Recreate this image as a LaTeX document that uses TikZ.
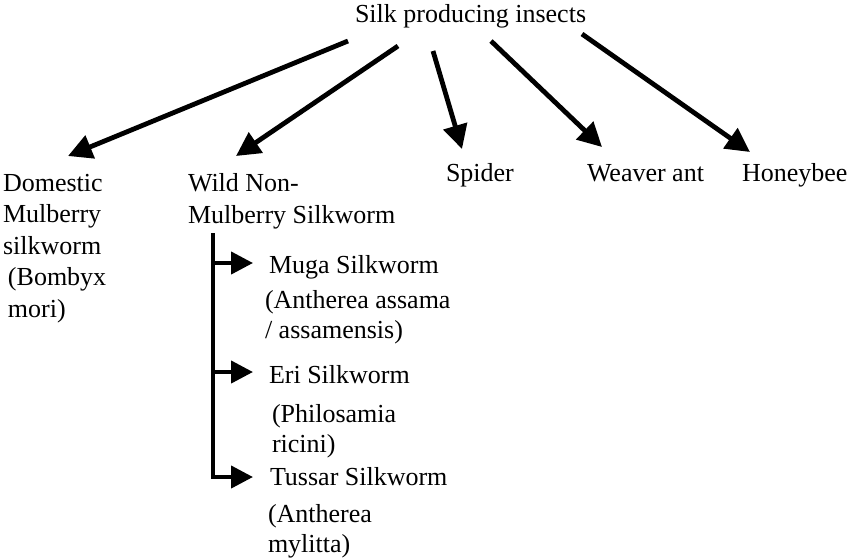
\documentclass[tikz,border=0pt]{standalone}
\usepackage{fontspec}
\setmainfont{Liberation Serif}
\usetikzlibrary{arrows.meta}
\begin{document}
\begin{tikzpicture}[x=1pt,y=-1pt,
  lbl/.style={inner sep=0pt,outer sep=0pt,anchor=base west,align=left,
    font=\fontsize{26}{31.5}\selectfont},
  sub/.style={lbl,font=\fontsize{26}{29.5}\selectfont},
  bigarrow/.style={line width=4.8pt,-{Triangle[length=24pt,width=24pt]}},
  smallarrow/.style={line width=4.2pt,-{Triangle[length=22pt,width=22pt]}},
  trunk/.style={line width=4.2pt,line join=miter}]
\useasboundingbox (0,0) rectangle (850,558);
% labels
\node[lbl] (title) at (355,22) {Silk producing insects};
\node[lbl] (dom) at (3,317) {Domestic\\Mulberry\\silkworm\\\hspace*{5pt}(Bombyx\\\hspace*{5pt}mori)};
\node[lbl] (wild) at (188,223) {Wild Non-\\Mulberry Silkworm};
\node[lbl] (spider) at (446,181) {Spider};
\node[lbl] (weaver) at (587,181) {Weaver ant};
\node[lbl] (honey) at (742,181) {Honeybee};
\node[lbl] (muga) at (269,273) {Muga Silkworm};
\node[sub] (mugasp) at (265,338) {(Antherea assama\\/ assamensis)};
\node[lbl] (eri) at (269,383) {Eri Silkworm};
\node[sub] (erisp) at (272,452) {(Philosamia\\ricini)};
\node[lbl] (tussar) at (270,485) {Tussar Silkworm};
\node[sub] (tussp) at (268,552) {(Antherea\\mylitta)};
% connector end points
\coordinate (s1) at (348,41);  \coordinate (t1) at (68,156);
\coordinate (s2) at (398,46);  \coordinate (t2) at (236,156);
\coordinate (s3) at (433,51);  \coordinate (t3) at (462,149);
\coordinate (s4) at (491,41);  \coordinate (t4) at (602,147);
\coordinate (s5) at (582,34);  \coordinate (t5) at (750,152);
\draw[bigarrow] (s1) -- (t1);
\draw[bigarrow] (s2) -- (t2);
\draw[bigarrow] (s3) -- (t3);
\draw[bigarrow] (s4) -- (t4);
\draw[bigarrow] (s5) -- (t5);
% tree
\coordinate (top) at (213,233);
\coordinate (b1) at (213,263); \coordinate (e1) at (253,263);
\coordinate (b2) at (213,372); \coordinate (e2) at (253,372);
\coordinate (b3) at (213,477); \coordinate (e3) at (253,477);
\draw[trunk,smallarrow] (top) -- (b3) -- (e3);
\draw[smallarrow] (b1) -- (e1);
\draw[smallarrow] (b2) -- (e2);
\end{tikzpicture}
\end{document}
